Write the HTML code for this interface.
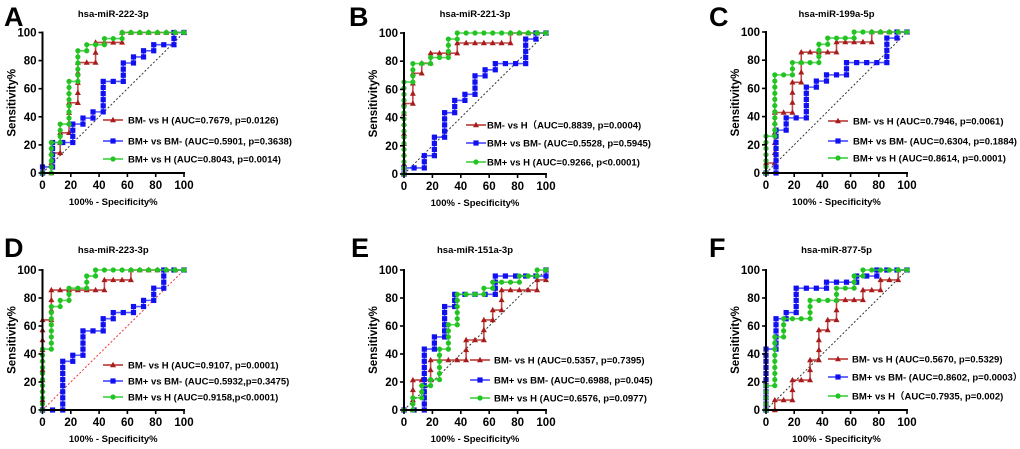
<!DOCTYPE html>
<html><head><meta charset="utf-8">
<style>
html,body{margin:0;padding:0;background:#fff;}
svg{display:block;font-family:"Liberation Sans","Noto Sans CJK SC",sans-serif;}
</style></head>
<body>
<svg id="fig" width="1020" height="449" viewBox="0 0 1020 449"></svg>
<script>
const tickLabels = [0,20,40,60,80,100];
const panelLetters = ["A","B","C","D","E","F"];
const panelTitles = ["hsa-miR-222-3p","hsa-miR-221-3p","hsa-miR-199a-5p","hsa-miR-223-3p","hsa-miR-151a-3p","hsa-miR-877-5p"];
const legendA = ["BM- vs H (AUC=0.7679, p=0.0126)","BM+ vs BM- (AUC=0.5901, p=0.3638)","BM+ vs H (AUC=0.8043, p=0.0014)"];
const legendB = ["BM- vs H（AUC=0.8839, p=0.0004)","BM+ vs BM- (AUC=0.5528, p=0.5945)","BM+ vs H (AUC=0.9266, p<0.0001)"];
const legendC = ["BM- vs H (AUC=0.7946, p=0.0061)","BM+ vs BM- (AUC=0.6304, p=0.1884)","BM+ vs H (AUC=0.8614, p=0.0001)"];
const legendD = ["BM- vs H (AUC=0.9107, p=0.0001)","BM+ vs BM- (AUC=0.5932,p=0.3475)","BM+ vs H (AUC=0.9158,p<0.0001)"];
const legendE = ["BM- vs H (AUC=0.5357, p=0.7395)","BM+ vs BM- (AUC=0.6988, p=0.045)","BM+ vs H (AUC=0.6576, p=0.0977)"];
const legendF = ["BM- vs H (AUC=0.5670, p=0.5329)","BM+ vs BM- (AUC=0.8602, p=0.0003）","BM+ vs H（AUC=0.7935, p=0.002)"];

// ROC data: [fpr, [tpr values at that fpr]]
const A_red = [[0,[0]],[6.25,[0,7.1,14.3]],[12.5,[14.3,21.4,28.6]],[18.75,[28.6,35.7,42.9,50]],[25,[50,57.1,64.3,71.4,78.6]],[31.25,[78.6]],[37.5,[78.6,85.7,92.9]],[43.75,[92.9]],[50,[92.9]],[56.25,[92.9,100]],[62.5,[100]],[68.75,[100]],[75,[100]],[81.25,[100]],[87.5,[100]],[93.75,[100]],[100,[100]]];
const A_blue = [[0,[0,4.3]],[7.1,[4.3,8.7,13,17.4,21.7]],[14.3,[21.7]],[21.4,[21.7,26.1,30.4,34.8]],[28.6,[34.8,39.1]],[35.7,[39.1,43.5]],[42.9,[43.5,47.8,52.2,56.5,60.9,65.2]],[50,[65.2]],[57.1,[65.2,69.6,73.9,78.3]],[64.3,[78.3,82.6]],[71.4,[82.6,87]],[78.6,[87,91.3]],[85.7,[91.3]],[92.9,[91.3,95.7,100]],[100,[100]]];
const A_green = [[0,[0]],[6.25,[0,4.3,8.7,13,17.4,21.7]],[12.5,[21.7,26.1,30.4,34.8]],[18.75,[34.8,39.1,43.5,47.8,52.2,56.5,60.9,65.2]],[25,[65.2,69.6,73.9,78.3,82.6,87]],[31.25,[87,91.3]],[37.5,[91.3]],[43.75,[91.3,95.7]],[50,[95.7]],[56.25,[95.7,100]],[62.5,[100]],[68.75,[100]],[75,[100]],[81.25,[100]],[87.5,[100]],[93.75,[100]],[100,[100]]];

const B_red = [[0,[0,7.1,14.3,21.4,28.6,35.7,42.9,50]],[6.25,[50,57.1,64.3,71.4]],[12.5,[71.4,78.6]],[18.75,[78.6,85.7]],[25,[85.7]],[31.25,[85.7]],[37.5,[85.7,92.9]],[43.75,[92.9]],[50,[92.9]],[56.25,[92.9]],[62.5,[92.9]],[68.75,[92.9]],[75,[92.9,100]],[81.25,[100]],[87.5,[100]],[93.75,[100]],[100,[100]]];
const B_blue = [[0,[0,4.3]],[7.1,[4.3]],[14.3,[4.3,8.7,13]],[21.4,[13,17.4,21.7,26.1]],[28.6,[26.1,30.4,34.8,39.1,43.5]],[35.7,[43.5,47.8,52.2]],[42.9,[52.2,56.5]],[50,[56.5,60.9,65.2,69.6]],[57.1,[69.6,73.9]],[64.3,[73.9,78.3]],[71.4,[78.3]],[78.6,[78.3]],[85.7,[78.3,82.6,87,91.3,95.7]],[92.9,[95.7,100]],[100,[100]]];
const B_green = [[0,[0,4.3,8.7,13,17.4,21.7,26.1,30.4,34.8,39.1,43.5,47.8,52.2,56.5,60.9,65.2]],[6.25,[65.2,69.6,73.9,78.3]],[12.5,[78.3]],[18.75,[78.3,82.6]],[25,[82.6]],[31.25,[82.6,87,91.3,95.7]],[37.5,[95.7,100]],[43.75,[100]],[50,[100]],[56.25,[100]],[62.5,[100]],[68.75,[100]],[75,[100]],[81.25,[100]],[87.5,[100]],[93.75,[100]],[100,[100]]];

const C_red = [[0,[0,7.1]],[6.25,[7.1,14.3,21.4,28.6,35.7,42.9]],[12.5,[42.9]],[18.75,[42.9,50,57.1,64.3]],[25,[64.3,71.4,78.6,85.7]],[31.25,[85.7]],[37.5,[85.7]],[43.75,[85.7]],[50,[85.7,92.9]],[56.25,[92.9]],[62.5,[92.9]],[68.75,[92.9]],[75,[92.9,100]],[81.25,[100]],[87.5,[100]],[93.75,[100]],[100,[100]]];
const C_blue = [[0,[0]],[7.1,[0,4.3,8.7,13,17.4,21.7,26.1,30.4]],[14.3,[30.4,34.8,39.1]],[21.4,[39.1]],[28.6,[39.1,43.5,47.8,52.2,56.5,60.9]],[35.7,[60.9,65.2]],[42.9,[65.2,69.6]],[50,[69.6]],[57.1,[69.6,73.9,78.3]],[64.3,[78.3]],[71.4,[78.3]],[78.6,[78.3]],[85.7,[78.3,82.6,87,91.3,95.7]],[92.9,[95.7,100]],[100,[100]]];
const C_green = [[0,[0,4.3,8.7,13,17.4,21.7,26.1]],[6.25,[26.1,30.4,34.8,39.1,43.5,47.8,52.2,56.5,60.9,65.2,69.6]],[12.5,[69.6]],[18.75,[69.6,73.9,78.3]],[25,[78.3]],[31.25,[78.3]],[37.5,[78.3,82.6,87,91.3]],[43.75,[91.3,95.7]],[50,[95.7]],[56.25,[95.7]],[62.5,[95.7,100]],[68.75,[100]],[75,[100]],[81.25,[100]],[87.5,[100]],[93.75,[100]],[100,[100]]];

const D_red = [[0,[0,7.1,14.3,21.4,28.6,35.7,42.9,50,57.1,64.3]],[6.25,[64.3,71.4,78.6,85.7]],[12.5,[85.7]],[18.75,[85.7]],[25,[85.7]],[31.25,[85.7]],[37.5,[85.7]],[43.75,[85.7,92.9]],[50,[92.9]],[56.25,[92.9]],[62.5,[92.9,100]],[68.75,[100]],[75,[100]],[81.25,[100]],[87.5,[100]],[93.75,[100]],[100,[100]]];
const D_blue = [[0,[0]],[7.1,[0]],[14.3,[0,4.3,8.7,13,17.4,21.7,26.1,30.4,34.8]],[21.4,[34.8,39.1]],[28.6,[39.1,43.5,47.8,52.2,56.5]],[35.7,[56.5]],[42.9,[56.5,60.9,65.2]],[50,[65.2,69.6]],[57.1,[69.6]],[64.3,[69.6,73.9]],[71.4,[73.9,78.3]],[78.6,[78.3,82.6,87]],[85.7,[87,91.3,95.7,100]],[92.9,[100]],[100,[100]]];
const D_green = [[0,[0,4.3,8.7,13,17.4,21.7,26.1,30.4,34.8,39.1,43.5]],[6.25,[43.5,47.8,52.2,56.5,60.9,65.2,69.6,73.9]],[12.5,[73.9,78.3]],[18.75,[78.3,82.6,87]],[25,[87]],[31.25,[87,91.3,95.7]],[37.5,[95.7,100]],[43.75,[100]],[50,[100]],[56.25,[100]],[62.5,[100]],[68.75,[100]],[75,[100]],[81.25,[100]],[87.5,[100]],[93.75,[100]],[100,[100]]];

const E_red = [[0,[0]],[6.25,[0,7.1,14.3,21.4]],[12.5,[21.4]],[18.75,[21.4,28.6,35.7]],[25,[35.7]],[31.25,[35.7]],[37.5,[35.7]],[43.75,[35.7,42.9,50]],[50,[50]],[56.25,[50,57.1,64.3]],[62.5,[64.3,71.4]],[68.75,[71.4,78.6,85.7]],[75,[85.7]],[81.25,[85.7]],[87.5,[85.7]],[93.75,[85.7,92.9]],[100,[92.9,100]]];
const E_blue = [[0,[0]],[7.1,[0]],[14.3,[0,4.3,8.7,13,17.4,21.7,26.1,30.4,34.8,39.1,43.5]],[21.4,[43.5,47.8,52.2]],[28.6,[52.2,56.5,60.9,65.2,69.6,73.9]],[35.7,[73.9,78.3,82.6]],[42.9,[82.6]],[50,[82.6]],[57.1,[82.6]],[64.3,[82.6,87,91.3,95.7]],[71.4,[95.7]],[78.6,[95.7]],[85.7,[95.7]],[92.9,[95.7]],[100,[95.7,100]]];
const E_green = [[0,[0]],[6.25,[0,4.3,8.7]],[12.5,[8.7,13,17.4]],[18.75,[17.4,21.7]],[25,[21.7,26.1,30.4,34.8,39.1,43.5]],[31.25,[43.5,47.8,52.2,56.5,60.9]],[37.5,[60.9,65.2,69.6,73.9,78.3,82.6]],[43.75,[82.6]],[50,[82.6]],[56.25,[82.6,87]],[62.5,[87,91.3]],[68.75,[91.3]],[75,[91.3]],[81.25,[91.3,95.7]],[87.5,[95.7]],[93.75,[95.7,100]],[100,[100]]];

const F_red = [[0,[0]],[6.25,[0,7.1]],[12.5,[7.1]],[18.75,[7.1,14.3,21.4]],[25,[21.4]],[31.25,[21.4,28.6,35.7]],[37.5,[35.7,42.9,50,57.1]],[43.75,[57.1,64.3]],[50,[64.3,71.4,78.6]],[56.25,[78.6]],[62.5,[78.6]],[68.75,[78.6,85.7]],[75,[85.7]],[81.25,[85.7,92.9]],[87.5,[92.9]],[93.75,[92.9,100]],[100,[100]]];
const F_blue = [[0,[0,4.3,8.7,13,17.4,21.7,26.1,30.4,34.8,39.1,43.5]],[7.1,[43.5,47.8,52.2,56.5,60.9,65.2]],[14.3,[65.2,69.6]],[21.4,[69.6,73.9,78.3,82.6,87]],[28.6,[87]],[35.7,[87]],[42.9,[87,91.3]],[50,[91.3]],[57.1,[91.3]],[64.3,[91.3,95.7]],[71.4,[95.7]],[78.6,[95.7,100]],[85.7,[100]],[92.9,[100]],[100,[100]]];
const F_green = [[0,[0,4.3,8.7,13,17.4]],[6.25,[17.4,21.7,26.1,30.4,34.8,39.1,43.5,47.8,52.2]],[12.5,[52.2,56.5,60.9,65.2]],[18.75,[65.2]],[25,[65.2]],[31.25,[65.2,69.6,73.9,78.3]],[37.5,[78.3]],[43.75,[78.3]],[50,[78.3,82.6,87]],[56.25,[87]],[62.5,[87,91.3,95.7]],[68.75,[95.7,100]],[75,[100]],[81.25,[100]],[87.5,[100]],[93.75,[100]],[100,[100]]];

const seriesByPanel = [[A_red,A_blue,A_green],[B_red,B_blue,B_green],[C_red,C_blue,C_green],[D_red,D_blue,D_green],[E_red,E_blue,E_green],[F_red,F_blue,F_green]];
const legendsByPanel = [legendA,legendB,legendC,legendD,legendE,legendF];

// layout (pixels)
const layout = [
 {x0:42.5,x1:184,yT:32.5,yB:173,lx:103,tx:128,rows:[120,141,159],diag:"#333",lettX:4,lettY:26,titleY:17},
 {x0:404,x1:546,yT:33,yB:174,lx:466,tx:487,rows:[125,143,162],diag:"#333",lettX:349,lettY:26,titleY:17},
 {x0:766,x1:907,yT:32,yB:173,lx:828,tx:853,rows:[121,141,158],diag:"#333",lettX:709,lettY:26,titleY:17},
 {x0:42.5,x1:184,yT:270,yB:410,lx:103,tx:128,rows:[365,381,397],diag:"#e33",lettX:4,lettY:257,titleY:253},
 {x0:404,x1:546,yT:270,yB:410,lx:470,tx:494,rows:[360,380,398],diag:"#333",lettX:351,lettY:257,titleY:253},
 {x0:766,x1:907,yT:270,yB:410,lx:828,tx:852,rows:[359,377,396],diag:"#333",lettX:709,lettY:257,titleY:253}
];
const lineColors = ["#b52a2a","#3a3aff","#33cc33"];
const markColors = ["#a81c1c","#1010f0","#22c422"];
const seriesNames = ["bm-minus-vs-h","bm-plus-vs-bm-minus","bm-plus-vs-h"];

const NS = "http://www.w3.org/2000/svg";
const svg = document.getElementById("fig");
function mk(tag, attrs, parent){
  const e = document.createElementNS(NS, tag);
  for (const k in attrs) e.setAttribute(k, attrs[k]);
  (parent||svg).appendChild(e);
  return e;
}
function marker(g, type, cx, cy, color){
  let m;
  if (type===0) m = mk("polygon",{points:`${cx},${cy-3.2} ${cx-3},${cy+2.2} ${cx+3},${cy+2.2}`,fill:color},g);
  else if (type===1) m = mk("rect",{x:cx-2.6,y:cy-2.6,width:5.2,height:5.2,fill:color},g);
  else m = mk("circle",{cx:cx,cy:cy,r:2.6,fill:color},g);
  
  
  return m;
}

layout.forEach((L, pi) => {
  const g = mk("g",{});
  
  
  const xs = v => L.x0 + (L.x1 - L.x0) * v / 100;
  const ys = v => L.yB - (L.yB - L.yT) * v / 100;

  const lt = mk("text",{x:L.lettX,y:L.lettY,"font-size":27,"font-weight":"bold",fill:"#000"},g);
  lt.textContent = panelLetters[pi];
  
  

  const tt = mk("text",{x:(L.x0+L.x1)/2,y:L.titleY,"font-size":9.5,"font-weight":"bold","text-anchor":"middle",fill:"#000"},g);
  tt.textContent = panelTitles[pi];
  
  

  const dg = mk("line",{x1:xs(0),y1:ys(0),x2:xs(100),y2:ys(100),stroke:L.diag,"stroke-width":1,"stroke-dasharray":"2,2"},g);
  
  

  seriesByPanel[pi].forEach((ser, si) => {
    const sg = mk("g",{},g);
    
    
    const pts = [];
    ser.forEach(col => col[1].forEach(v => pts.push([xs(col[0]), ys(v)])));
    const pl = mk("polyline",{points:pts.map(p=>p.join(",")).join(" "),fill:"none",stroke:lineColors[si],"stroke-width":1.6,"stroke-opacity":0.85},sg);
    
    
    pts.forEach(p => marker(sg, si, p[0], p[1], markColors[si]));
  });

  const ax = mk("g",{},g);
  
  
  mk("line",{x1:L.x0,y1:L.yT-1,x2:L.x0,y2:L.yB+1,stroke:"#000","stroke-width":2},ax);
  mk("line",{x1:L.x0-1,y1:L.yB,x2:L.x1+1,y2:L.yB,stroke:"#000","stroke-width":2},ax);
  tickLabels.forEach(t => {
    mk("line",{x1:L.x0-4,y1:ys(t),x2:L.x0,y2:ys(t),stroke:"#000","stroke-width":1.6},ax);
    mk("line",{x1:xs(t),y1:L.yB,x2:xs(t),y2:L.yB+4,stroke:"#000","stroke-width":1.6},ax);
    const yl = mk("text",{x:L.x0-6,y:ys(t)+4,"font-size":11.5,"font-weight":"bold","text-anchor":"end",fill:"#000"},ax);
    yl.textContent = t;
    
    
    const xl = mk("text",{x:xs(t),y:L.yB+16,"font-size":11.5,"font-weight":"bold","text-anchor":"middle",fill:"#000"},ax);
    xl.textContent = t;
    
    
  });
  const yt = mk("text",{x:0,y:0,"font-size":11.5,"font-weight":"bold","text-anchor":"middle",fill:"#000",transform:`translate(${L.x0-27},${(L.yT+L.yB)/2}) rotate(-90)`},g);
  yt.textContent = "Sensitivity%";
  
  
  const xt = mk("text",{x:(L.x0+L.x1)/2,y:L.yB+32,"font-size":9.5,"font-weight":"bold","text-anchor":"middle",fill:"#000"},g);
  xt.textContent = "100% - Specificity%";
  
  

  legendsByPanel[pi].forEach((lab, si) => {
    const lg = mk("g",{},g);
    
    
    const y = L.rows[si];
    mk("line",{x1:L.lx,y1:y,x2:L.lx+20,y2:y,stroke:lineColors[si],"stroke-width":1.6},lg);
    marker(lg, si, L.lx+10, y, markColors[si]);
    const tx = mk("text",{x:L.tx,y:y+3.5,"font-size":9.5,"font-weight":"bold",fill:"#000"},lg);
    tx.textContent = lab;
    
    
  });
});
</script>
</body></html>
